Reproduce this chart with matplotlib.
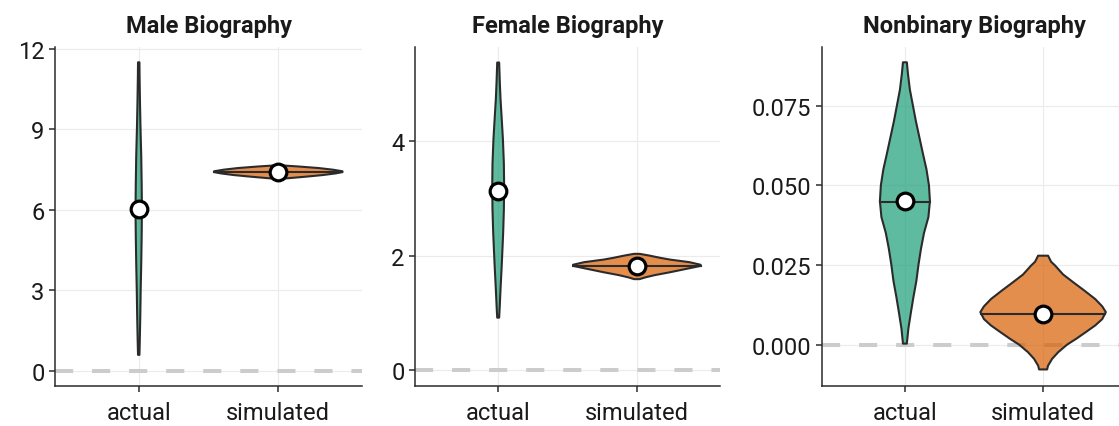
import numpy as np
import matplotlib.pyplot as plt

plt.rcParams['font.family'] = ['Roboto', 'DejaVu Sans']

titles = ["Male Biography", "Female Biography", "Nonbinary Biography"]
groups = ["actual", "simulated"]

# violin outlines: value levels and half widths (x units)
male_act_y = [0.6, 1, 2, 3, 4, 5, 6, 7, 8, 9, 10, 11, 11.5]
male_act_w = [0.005, 0.007, 0.011, 0.014, 0.018, 0.021, 0.023, 0.021, 0.018, 0.013, 0.009, 0.006, 0.005]
male_sim_y = [7.16, 7.19, 7.24, 7.30, 7.36, 7.41, 7.44, 7.50, 7.56, 7.62, 7.66]
male_sim_w = [0.02, 0.09, 0.20, 0.32, 0.41, 0.46, 0.46, 0.39, 0.29, 0.14, 0.02]

fem_act_y = [0.92, 1.1, 1.42, 1.8, 2.12, 2.4, 2.8, 3.2, 3.6, 4.03, 4.4, 4.72, 5.0, 5.36]
fem_act_w = [0.007, 0.011, 0.017, 0.025, 0.031, 0.036, 0.041, 0.043, 0.041, 0.034, 0.025, 0.017, 0.012, 0.007]
fem_sim_y = [1.59, 1.62, 1.66, 1.71, 1.78, 1.82, 1.84, 1.885, 1.93, 1.96, 2.0, 2.03]
fem_sim_w = [0.02, 0.06, 0.13, 0.24, 0.38, 0.46, 0.46, 0.38, 0.24, 0.17, 0.09, 0.02]

nb_act_y = [0.0003, 0.005, 0.010, 0.015, 0.020, 0.025, 0.030, 0.035, 0.040, 0.045,
            0.050, 0.055, 0.060, 0.065, 0.070, 0.075, 0.080, 0.085, 0.0886]
nb_act_w = [0.014, 0.025, 0.043, 0.062, 0.083, 0.098, 0.116, 0.138, 0.170, 0.181,
            0.174, 0.156, 0.130, 0.105, 0.080, 0.058, 0.036, 0.022, 0.014]
nb_sim_y = [-0.0078, -0.0066, -0.0045, -0.0024, 0.000, 0.0018, 0.004, 0.006, 0.008,
            0.0102, 0.012, 0.0143, 0.017, 0.0196, 0.022, 0.0248, 0.026, 0.0279]
nb_sim_w = [0.029, 0.036, 0.065, 0.109, 0.174, 0.239, 0.312, 0.377, 0.428,
            0.454, 0.428, 0.377, 0.297, 0.217, 0.145, 0.087, 0.058, 0.036]

medians = [[6.05, 7.42], [3.13, 1.82], [0.0447, 0.0095]]
means = [[6.05, 7.42], [3.13, 1.82], [0.045, 0.0095]]

yticks = [[0, 3, 6, 9, 12], [0, 2, 4], [0, 0.025, 0.05, 0.075]]
ytick_labels = [["0", "3", "6", "9", "12"], ["0", "2", "4"], ["0.000", "0.025", "0.050", "0.075"]]
ylims = [(-0.56, 12.07), (-0.27, 5.63), (-0.013, 0.0934)]

violins = [[(male_act_y, male_act_w), (male_sim_y, male_sim_w)],
           [(fem_act_y, fem_act_w), (fem_sim_y, fem_sim_w)],
           [(nb_act_y, nb_act_w), (nb_sim_y, nb_sim_w)]]

colors = ["#1b9e77", "#d95f02"]
edge = "#2b2b2b"

fig = plt.figure(figsize=(11.19, 4.27), dpi=100)
lefts = [55, 415, 822]
widths = [307, 305, 304]

for i in range(3):
    ax = fig.add_axes([lefts[i] / 1119, 40 / 427, widths[i] / 1119, 339 / 427])
    ax.axhline(0, color="#cccccc", lw=2.9, linestyle=(0, (4.5, 4.7)), zorder=1)
    for j in range(2):
        y = np.array(violins[i][j][0])
        w = np.array(violins[i][j][1])
        ax.fill_betweenx(y, j - w, j + w, facecolor=colors[j], alpha=0.7,
                         edgecolor="none", zorder=2)
        ax.fill_betweenx(y, j - w, j + w, facecolor="none", edgecolor=edge,
                         lw=1.5, zorder=3)
        mw = np.interp(medians[i][j], y, w)
        ax.plot([j - mw, j + mw], [medians[i][j], medians[i][j]], color=edge, lw=1.5, zorder=3)
        ax.plot(j, means[i][j], "o", ms=12, mfc="white", mec="black", mew=2.3, zorder=4)

    ax.set_xlim(-0.6, 1.6)
    ax.set_ylim(ylims[i])
    ax.set_xticks([0, 1])
    ax.set_xticklabels(groups)
    ax.set_yticks(yticks[i])
    ax.set_yticklabels(ytick_labels[i])
    ax.grid(True, color="#ebebeb", lw=0.8)
    ax.set_axisbelow(True)
    for s in ["top", "right"]:
        ax.spines[s].set_visible(False)
    for s in ["left", "bottom"]:
        ax.spines[s].set_color(edge)
        ax.spines[s].set_linewidth(1.1)
    ax.tick_params(labelsize=17, color=edge, width=1.1, length=4, labelcolor="#1a1a1a")
    ax.tick_params(axis="x", pad=7)
    ax.set_title(titles[i], fontsize=17, fontweight="bold", pad=11, color="#1a1a1a")

plt.savefig("out.png", dpi=100)
